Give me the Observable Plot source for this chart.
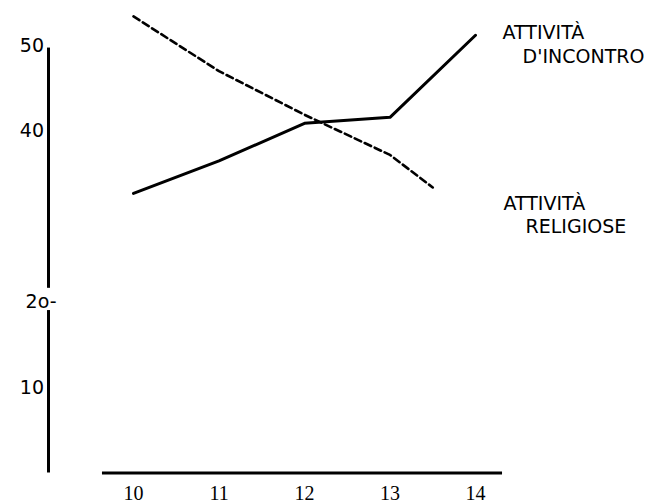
<!DOCTYPE html>
<html>
<head>
<meta charset="utf-8">
<script src="https://cdn.jsdelivr.net/npm/d3@7"></script>
<script src="https://cdn.jsdelivr.net/npm/@observablehq/plot@0.6"></script>
<style>
  html, body { margin: 0; padding: 0; background: #fff; }
</style>
</head>
<body>
<div id="chart"></div>
<script>
// ---- data ----
const xTicks = [10, 11, 12, 13, 14];
const yTicks = [50, 40, 10];
const yTickLabels = ["50", "40", "10"];
const oddTick = 20;
const oddTickLabel = "2o-";

const incontroX = [10, 11, 12, 13, 14];
const incontroY = [32.7, 36.5, 40.9, 41.6, 51.2];

const religioseX = [10, 11, 12, 13, 13.5];
const religioseY = [53.4, 47.0, 41.9, 37.2, 33.4];

const labelLines = ["ATTIVITÀ", "D'INCONTRO", "ATTIVITÀ", "RELIGIOSE"];
const labelX = [14.316, 14.55, 14.327, 14.585];
const labelY = [51.5, 48.7, 31.5, 28.8];

// ---- tables ----
const incontro = incontroX.map((x, i) => ({x, y: incontroY[i]}));
const religiose = religioseX.map((x, i) => ({x, y: religioseY[i]}));
const yTickData = yTicks.map((v, i) => ({v, label: yTickLabels[i]}));
const labels = labelLines.map((t, i) => ({t, x: labelX[i], y: labelY[i]}));

const axisX = 9.006;          // position of the vertical axis (data units)
const sans = "DejaVu Sans, sans-serif";
const serif = "Liberation Serif, Times New Roman, serif";

const chart = Plot.plot({
  width: 649,
  height: 504,
  margin: 0,
  x: {domain: [8.4444, 16.035], axis: null},
  y: {domain: [-3.684, 55.263], axis: null},
  marks: [
    // vertical axis (with gap behind the "2o-" label)
    Plot.ruleX([axisX], {y1: 0, y2: 19.0, stroke: "#000", strokeWidth: 3}),
    Plot.ruleX([axisX], {y1: 21.6, y2: 49.7, stroke: "#000", strokeWidth: 3}),
    // horizontal axis
    Plot.ruleY([0], {x1: 9.637, x2: 14.316, stroke: "#000", strokeWidth: 3}),
    // x tick labels
    Plot.text(xTicks, {x: d => d, y: 0, dy: 21, text: d => String(d),
      fontFamily: serif, fontSize: 20, fill: "#000"}),
    // y tick labels
    Plot.text(yTickData, {x: axisX, y: "v", text: "label", textAnchor: "end", dx: -4.5,
      fontFamily: sans, fontSize: 19, fill: "#000"}),
    Plot.text([oddTick], {x: axisX, y: d => d, text: () => oddTickLabel, textAnchor: "end", dx: 8,
      fontFamily: sans, fontSize: 19, fill: "#000"}),
    // series
    Plot.line(religiose, {x: "x", y: "y", stroke: "#000", strokeWidth: 2.6,
      strokeDasharray: "7,4", strokeLinejoin: "round"}),
    Plot.line(incontro, {x: "x", y: "y", stroke: "#000", strokeWidth: 3,
      strokeLinejoin: "round", strokeLinecap: "round"}),
    // series labels
    Plot.text(labels, {x: "x", y: "y", text: "t", textAnchor: "start",
      fontFamily: sans, fontSize: 19, fill: "#000"})
  ]
});
document.getElementById("chart").appendChild(chart);
</script>
</body>
</html>
